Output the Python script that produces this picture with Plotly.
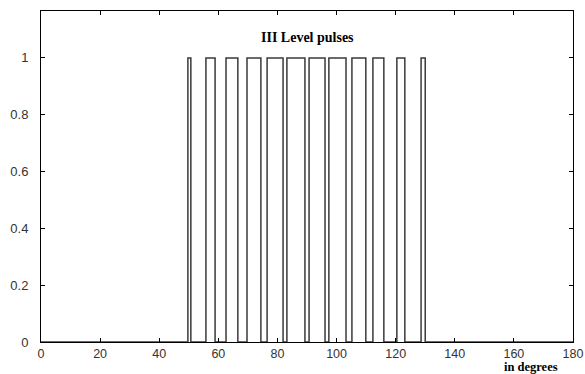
import plotly.graph_objects as go

pulse_start = [49.7, 55.8, 62.6, 69.7, 76.5, 83.2, 90.7, 97.4, 105.2, 112.3, 120.4, 128.6]
pulse_end = [50.7, 58.9, 66.6, 74.4, 81.9, 89.3, 96.1, 103.2, 109.9, 116.0, 123.1, 130.0]
x_ticks = [0, 20, 40, 60, 80, 100, 120, 140, 160, 180]
y_ticks = [0, 0.2, 0.4, 0.6, 0.8, 1]

xs, ys = [0], [0]
for s, e in zip(pulse_start, pulse_end):
    xs += [s, s, e, e]
    ys += [0, 1, 1, 0]
xs.append(180)
ys.append(0)

fig = go.Figure()
fig.add_trace(go.Scatter(x=xs, y=ys, mode="lines",
                         line=dict(color="#3a3a3a", width=1.5), showlegend=False))

axis_common = dict(showgrid=False, zeroline=False, showline=True, mirror="allticks",
                   linecolor="black", linewidth=1, ticks="inside", ticklen=4,
                   tickcolor="black", automargin=False,
                   tickfont=dict(family="Liberation Sans", size=13, color="#333"))
fig.update_xaxes(range=[0, 180], tickvals=x_ticks, ticktext=[str(v) for v in x_ticks],
                 ticklabelstandoff=0, **axis_common)
fig.update_xaxes(tickfont_size=12.5)
fig.update_yaxes(range=[0, 1.165], tickvals=y_ticks, ticktext=[str(v) for v in y_ticks],
                 ticklabelstandoff=9, **axis_common)

fig.add_annotation(x=90, y=1.07, xref="x", yref="y", text="<b>III Level pulses</b>",
                   showarrow=False, font=dict(family="Liberation Serif", size=14, color="black"))
fig.add_annotation(x=(531 - 41) / 532, y=-(367 - 342) / 331, xref="paper", yref="paper",
                   text="<b>in degrees</b>", xanchor="center", yanchor="middle",
                   showarrow=False, font=dict(family="Liberation Serif", size=12.5, color="black"))

fig.update_layout(width=585, height=374, autosize=False,
                  margin=dict(l=41, r=12, t=11, b=32, autoexpand=False),
                  plot_bgcolor="white", paper_bgcolor="white")
fig.write_html("out.html", config={"displayModeBar": False},
               post_script="document.body.style.margin='0';document.body.style.overflow='hidden';")
